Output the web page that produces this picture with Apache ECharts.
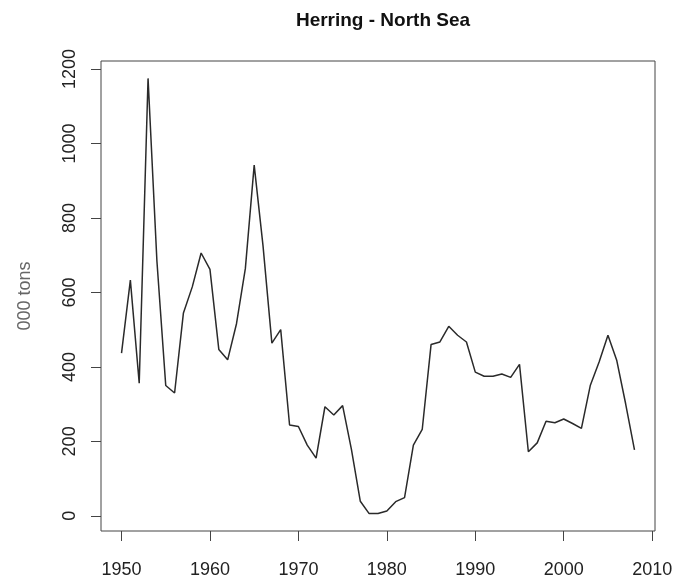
<!DOCTYPE html>
<html>
<head>
<meta charset="utf-8">
<script src="https://cdn.jsdelivr.net/npm/echarts@6/dist/echarts.min.js"></script>
<style>html,body{margin:0;padding:0;background:#fff}#c{width:676px;height:580px}</style>
</head>
<body>
<div id="c"></div>
<script>
var years = [1950,1951,1952,1953,1954,1955,1956,1957,1958,1959,1960,1961,1962,1963,1964,1965,1966,1967,1968,1969,1970,1971,1972,1973,1974,1975,1976,1977,1978,1979,1980,1981,1982,1983,1984,1985,1986,1987,1988,1989,1990,1991,1992,1993,1994,1995,1996,1997,1998,1999,2000,2001,2002,2003,2004,2005,2006,2007,2008];
var catchTons = [437,633,356,1175,685,350,330,545,615,706,662,447,419,516,664,942,725,464,500,244,240,190,155,293,271,296,178,39,6,6,13,38,49,190,232,460,467,509,485,467,386,375,375,381,372,407,172,196,254,250,260,248,235,350,413,485,417,301,177];
var xTicks = [1950,1960,1970,1980,1990,2000,2010];
var yTicks = [0,200,400,600,800,1000,1200];
var titleText = 'Herring - North Sea';
var yName = '000 tons';

function padRange(arr){
  var mn = Math.min.apply(null, arr), mx = Math.max.apply(null, arr);
  var d = (mx - mn) * 0.04;
  return [mn - d, mx + d];
}
var xr = padRange(years), yr = padRange(catchTons);
var pts = years.map(function(y,i){return [y, catchTons[i]];});
var fmt = function(v){ return String(Math.round(v)); };

var chart = echarts.init(document.getElementById('c'));
chart.setOption({
  animation:false,
  backgroundColor:'#fff',
  title:{text:titleText, left:378, top:6, textAlign:'center',
    textStyle:{fontFamily:'Liberation Sans, Arial, sans-serif', fontSize:19, fontWeight:'bold', color:'#111'}},
  grid:{left:101, right:21, top:61, bottom:49, show:true, borderColor:'#444', borderWidth:1, backgroundColor:'transparent'},
  xAxis:{type:'value', min:xr[0], max:xr[1],
    axisLine:{show:false, onZero:false},
    splitLine:{show:false},
    axisTick:{show:true, length:10, customValues:xTicks, lineStyle:{color:'#444'}},
    axisLabel:{customValues:xTicks, formatter:fmt, margin:30, fontSize:18, color:'#222', fontFamily:'Liberation Sans, Arial, sans-serif'}
  },
  yAxis:{type:'value', min:yr[0], max:yr[1],
    name:yName, nameLocation:'middle', nameGap:67, nameRotate:90,
    nameTextStyle:{fontSize:18, color:'#666', fontFamily:'Liberation Sans, Arial, sans-serif'},
    axisLine:{show:false, onZero:false},
    splitLine:{show:false},
    axisTick:{show:true, length:10, customValues:yTicks, lineStyle:{color:'#444'}},
    axisLabel:{customValues:yTicks, formatter:fmt, rotate:90, margin:22, fontSize:18, color:'#222', fontFamily:'Liberation Sans, Arial, sans-serif'}
  },
  series:[{type:'line', data:pts, showSymbol:false, symbol:'none',
    lineStyle:{color:'#2a2a2a', width:1.5}}]
});
</script>
</body>
</html>
